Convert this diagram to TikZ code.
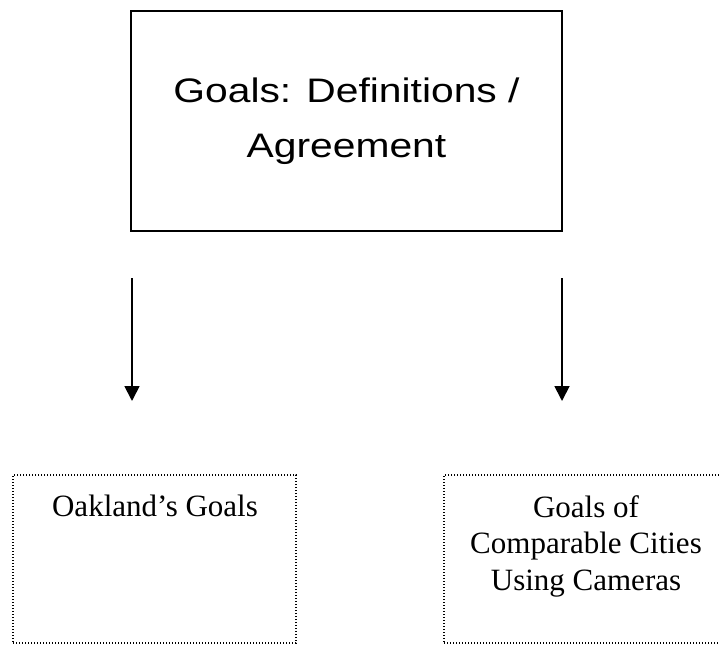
\documentclass[tikz,border=0pt]{standalone}
\usepackage{fontspec}
\setmainfont{Liberation Serif}
\newfontfamily\goalfont{Liberation Sans}
\usetikzlibrary{arrows.meta}

\newcommand{\widetext}[1]{\scalebox{1.2}[1]{#1}}

\begin{document}
\begin{tikzpicture}[x=1pt,y=-1pt,
    goalbox/.style={draw,line width=2.6pt,minimum width=431pt,minimum height=220pt,
      align=center,font=\goalfont\fontsize{34}{55}\selectfont},
    citybox/.style={draw,line width=1.6pt,dash pattern=on 1.4pt off 1.6pt,
      minimum height=168pt},
    citytext/.style={align=center,font=\fontsize{31}{36.5}\selectfont,inner sep=0pt},
    goalarrow/.style={line width=1.8pt,-{Triangle[length=15pt,width=15pt]}}]
  \useasboundingbox (0,0) rectangle (719,647);
  \clip (0,0) rectangle (719,647);
  \node[goalbox] (goals) at (346.5,121) {\widetext{Goals: Definitions /}\\\widetext{Agreement}};
  \coordinate (lstart) at (132,278);
  \coordinate (lend) at (132,401);
  \coordinate (rstart) at (562,278);
  \coordinate (rend) at (562,401);
  \draw[goalarrow] (lstart) -- (lend);
  \draw[goalarrow] (rstart) -- (rend);
  \node[citybox,minimum width=283pt] (oakland) at (154.5,559) {};
  \node[citybox,minimum width=400pt] (cities) at (644,559) {};
  \node[citytext,anchor=north] (oaktext) at (155,495) {Oakland's Goals};
  \node[citytext,anchor=north] (citytext) at (586,495) {Goals of\\Comparable Cities\\Using Cameras};
\end{tikzpicture}
\end{document}
